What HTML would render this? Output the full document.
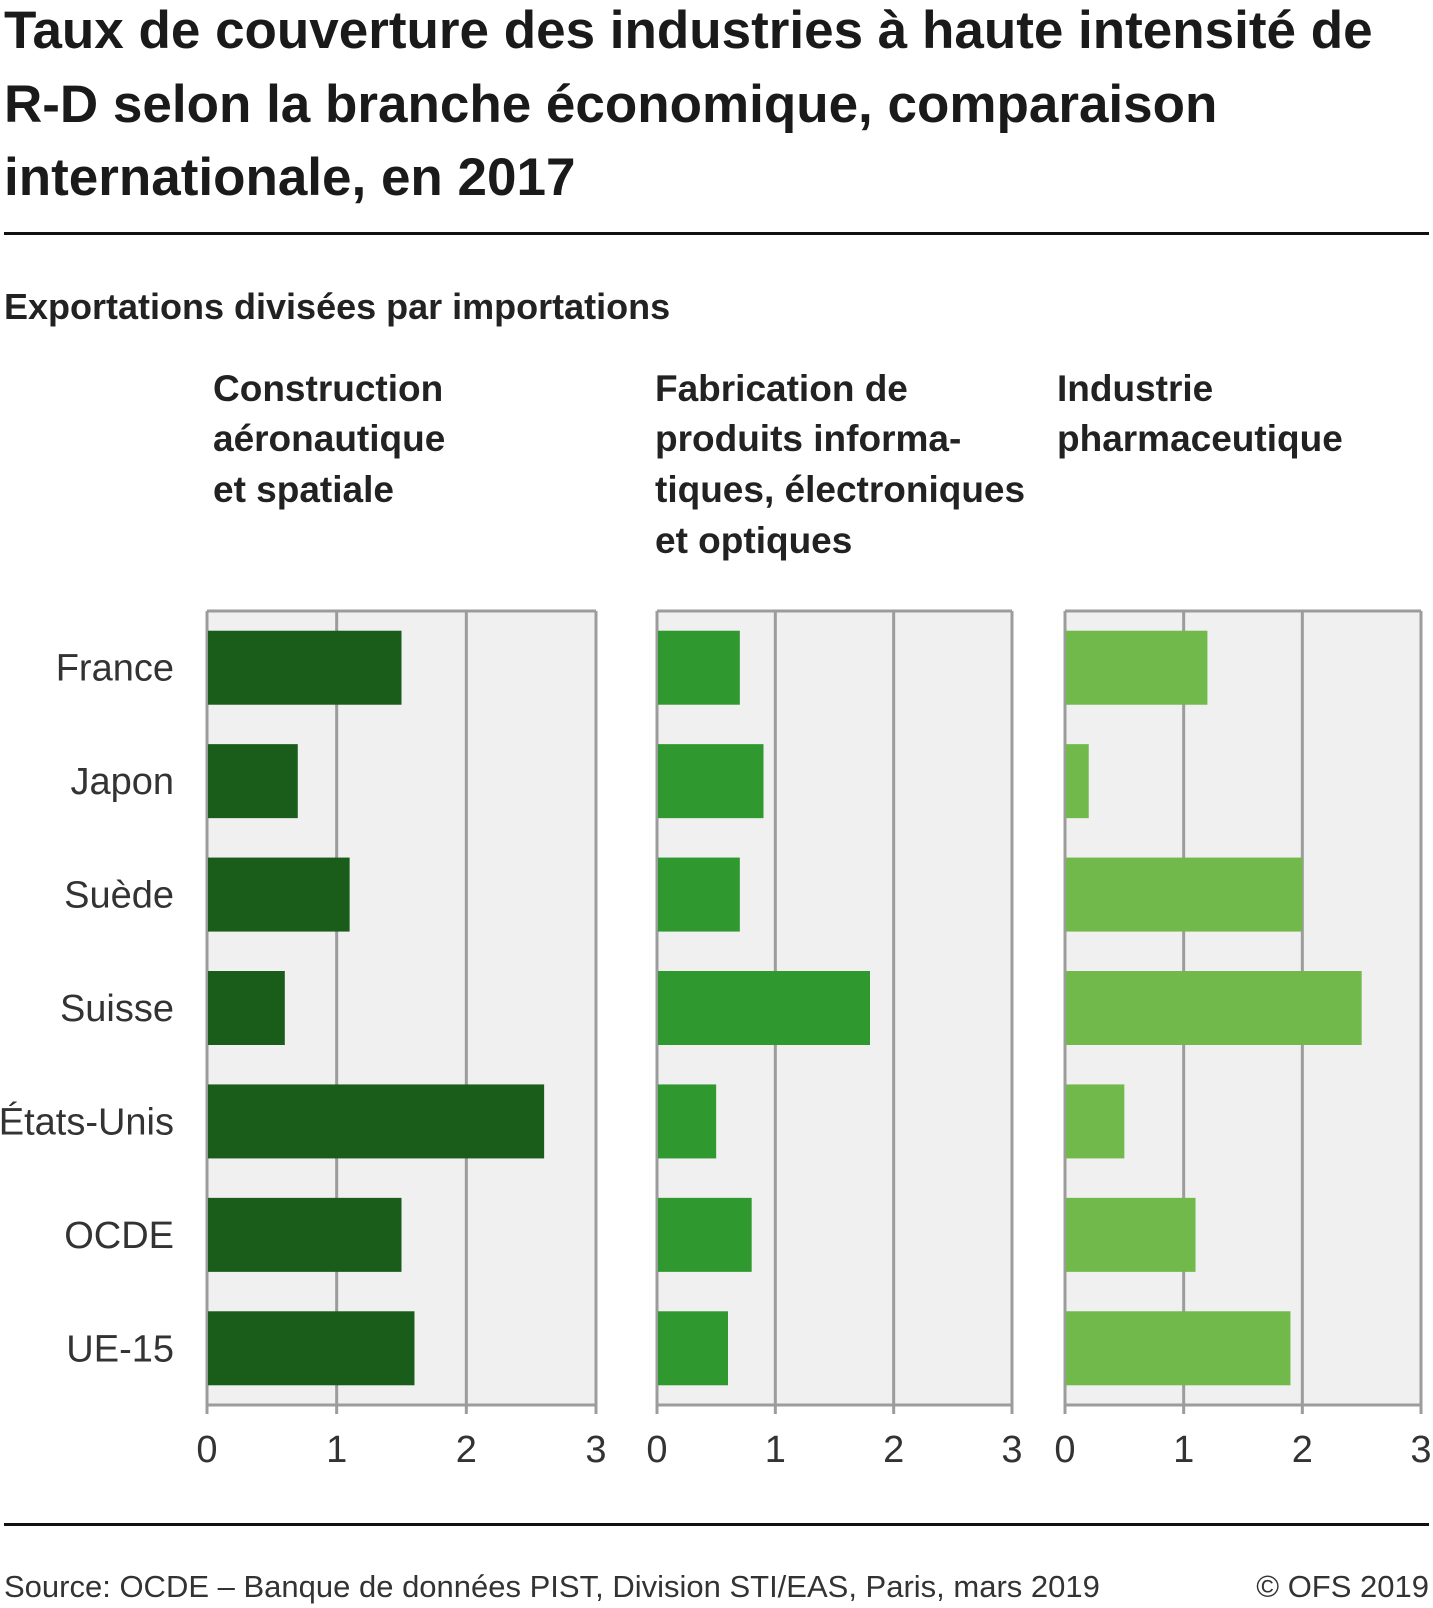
<!DOCTYPE html>
<html><head><meta charset="utf-8"><style>
body{margin:0;background:#fff}
svg{display:block;font-family:"Liberation Sans",sans-serif}
</style></head><body>
<svg id="c" width="1433" height="1608" viewBox="0 0 1433 1608">
<g font-size="53" font-weight="bold" fill="#1a1a1a">
<text x="4" y="48">Taux de couverture des industries à haute intensité de</text>
<text x="4" y="122">R-D selon la branche économique, comparaison</text>
<text x="4" y="195">internationale, en 2017</text>
</g>
<rect x="4" y="232" width="1425" height="3" fill="#111"/>
<text x="4" y="319" font-size="36" font-weight="bold" fill="#222">Exportations divisées par importations</text>
<g font-size="37" font-weight="bold" fill="#222">
<text><tspan x="213" y="401">Construction</tspan><tspan x="213" y="451">aéronautique</tspan><tspan x="213" y="502">et spatiale</tspan></text>
<text><tspan x="655" y="401">Fabrication de</tspan><tspan x="655" y="451">produits informa-</tspan><tspan x="655" y="502">tiques, électroniques</tspan><tspan x="655" y="553">et optiques</tspan></text>
<text><tspan x="1057" y="401">Industrie</tspan><tspan x="1057" y="451">pharmaceutique</tspan></text>
</g>
<g id="plots"></g>
<rect x="4" y="1523" width="1425" height="3" fill="#111"/>
<text x="4" y="1597" font-size="31" fill="#333">Source: OCDE – Banque de données PIST, Division STI/EAS, Paris, mars 2019</text>
<text x="1429" y="1597" font-size="31" fill="#333" text-anchor="end">© OFS 2019</text>
</svg>
<script>
const categories=["France","Japon","Suède","Suisse","États-Unis","OCDE","UE-15"];
const aeroValues=[1.5,0.7,1.1,0.6,2.6,1.5,1.6];
const electronicsValues=[0.7,0.9,0.7,1.8,0.5,0.8,0.6];
const pharmaValues=[1.2,0.2,2.0,2.5,0.5,1.1,1.9];
const tickValues=[0,1,2,3];
const NS="http://www.w3.org/2000/svg";
const g=document.getElementById('plots');
function mk(t,a,p){const e=document.createElementNS(NS,t);for(const k in a)e.setAttribute(k,a[k]);(p||g).appendChild(e);return e;}
const plotTop=611,plotBottom=1405,band=(plotBottom-plotTop)/categories.length,barH=74;
function yPos(i){return plotTop+band*i+band/2;}
const panels=[{name:'aero',x0:207,x1:596,vals:aeroValues,color:'#1a5c1a'},
{name:'electronics',x0:657,x1:1012,vals:electronicsValues,color:'#2f992f'},
{name:'pharma',x0:1065,x1:1421,vals:pharmaValues,color:'#71b94a'}];
categories.forEach((c,i)=>{
const t=mk('text',{x:174,y:yPos(i)+13,'font-size':38,fill:'#333','text-anchor':'end'});


t.textContent=c;});
panels.forEach(p=>{
const sx=v=>p.x0+(v/3)*(p.x1-p.x0);
const bg=mk('rect',{x:p.x0,y:plotTop,width:p.x1-p.x0,height:plotBottom-plotTop,fill:'#f0f0f0'});


tickValues.forEach(v=>{
const l=mk('line',{x1:sx(v),x2:sx(v),y1:plotTop,y2:plotBottom+9,stroke:'#9c9c9c','stroke-width':3});


const t=mk('text',{x:sx(v),y:1462,'font-size':38,fill:'#333','text-anchor':'middle'});


t.textContent=v;});
const tl=mk('line',{x1:p.x0,x2:p.x1,y1:plotTop,y2:plotTop,stroke:'#9c9c9c','stroke-width':3});


const bl=mk('line',{x1:p.x0,x2:p.x1,y1:plotBottom,y2:plotBottom,stroke:'#9c9c9c','stroke-width':3});


p.vals.forEach((v,i)=>{
const r=mk('rect',{x:p.x0+1,y:yPos(i)-barH/2,width:sx(v)-p.x0-1,height:barH,fill:p.color});

});
});
</script>
</body></html>
